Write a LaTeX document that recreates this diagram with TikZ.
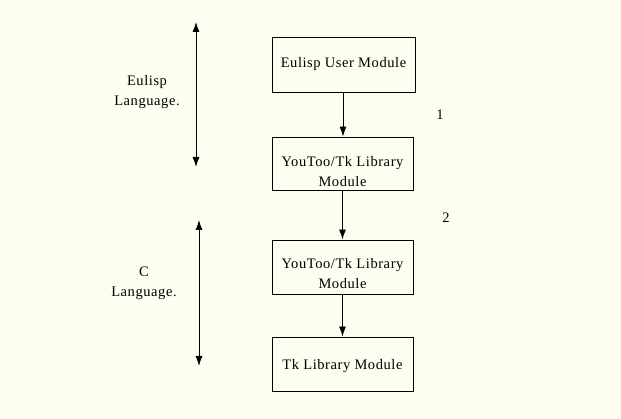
\documentclass[tikz,border=0pt]{standalone}
\usepackage{fontspec}
\setmainfont{Liberation Serif}[LetterSpace=4]
\usetikzlibrary{arrows.meta}
\definecolor{bgc}{RGB}{254,254,240}
\tikzset{
  box/.style={draw=black, line width=0.9pt, rectangle, minimum width=141pt, minimum height=54pt, inner sep=0pt},
  lbl/.style={font=\fontsize{14.5}{20}\selectfont, align=center, inner sep=0pt},
  conn/.style={line width=0.9pt, -{Latex[length=10pt,width=7pt]}},
  dbl/.style={line width=0.9pt, {Latex[length=10pt,width=7pt]}-{Latex[length=10pt,width=7pt]}}
}
\begin{document}
\begin{tikzpicture}[x=1pt,y=1pt]
\fill[bgc] (0,0) rectangle (621,419);
\useasboundingbox (0,0) rectangle (621,419);
% boxes
\node[box, minimum width=143pt, minimum height=55pt] (b1) at (343.5,354.5) {};
\node[lbl] (t1) at (b1.center) {Eulisp User Module};
\node[box, minimum height=53pt] (b2) at (342.5,255.5) {};
\node[lbl] (t2) at ([yshift=-8pt]b2.center) {YouToo/Tk Library\\Module};
\node[box] (b3) at (342.5,152) {};
\node[lbl] (t3) at ([yshift=-7pt]b3.center) {YouToo/Tk Library\\Module};
\node[box] (b4) at (342.5,55) {};
\node[lbl] (t4) at ([yshift=-2pt]b4.center) {Tk Library Module};
% connectors
\draw[conn] ([xshift=-0.5pt]b1.south) -- ([xshift=0.5pt]b2.north);
\draw[conn] (b2.south) -- (b3.north);
\draw[conn] (b3.south) -- (b4.north);
% numbers
\node[lbl] (n1) at (440,304) {1};
\node[lbl] (n2) at (446,201) {2};
% language ranges
\coordinate (e1) at (196,397);
\coordinate (e2) at (196,252);
\draw[dbl] (e1) -- (e2);
\coordinate (c1) at (199,199);
\coordinate (c2) at (199,53);
\draw[dbl] (c1) -- (c2);
\node[lbl] (el) at (147,327) {Eulisp\\Language.};
\node[lbl] (cl) at (144,136) {C\\Language.};
\end{tikzpicture}
\end{document}
